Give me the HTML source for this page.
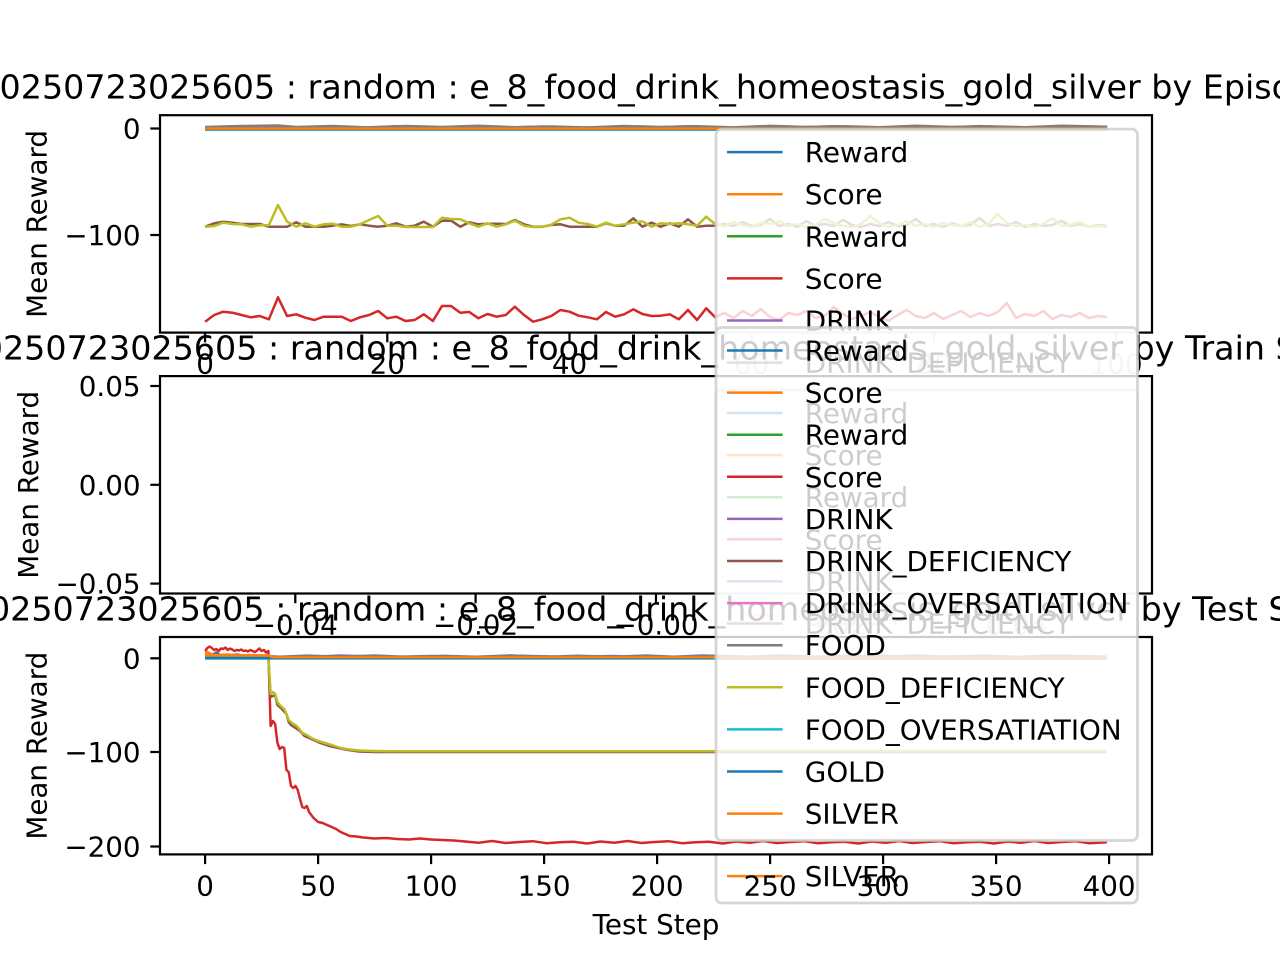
<!DOCTYPE html>
<html><head><meta charset="utf-8"><style>
html,body{margin:0;padding:0;background:#fff;}
svg{display:block;}
text{font-family:"DejaVu Sans","Liberation Sans",sans-serif;fill:#000;}
.tk{font-size:27.78px;}
.ti{font-size:33.33px;}
.ln{fill:none;stroke-width:2.5;stroke-linejoin:round;vector-effect:non-scaling-stroke;}
.sp{fill:none;stroke:#000;stroke-width:2.22;}
.tick{stroke:#000;stroke-width:2.22;}
.lg{fill:#fff;fill-opacity:0.8;stroke:#ccc;stroke-opacity:0.8;stroke-width:2.78;}
.h{stroke-width:2.5;}
</style></head><body>
<svg width="1280" height="960" viewBox="0 0 1280 960" xmlns="http://www.w3.org/2000/svg">
<defs>
<clipPath id="c1"><rect x="160" y="115.2" width="992" height="217.4"/></clipPath>
<clipPath id="c3"><rect x="160" y="637" width="992" height="217.4"/></clipPath>
</defs>
<rect x="0" y="0" width="1280" height="960" fill="#fff"/>

<!-- ================= AX1 ================= -->
<g clip-path="url(#c1)">
<g transform="translate(205.1,0) scale(9.111,1)">
<polyline class="ln" stroke="#1f77b4" points="0,129 99,129"/>
<polyline class="ln" stroke="#ff7f0e" points="0,128.3 99,128.3"/>
<polyline class="ln" stroke="#2ca02c" points="0,129.3 99,129.3"/>
<polyline class="ln" stroke="#d62728" points="0,321.7 1,315 2,311.7 3,312.7 4,315 5,317.3 6,316 7,319.3 8,297.3 9,316 10,314.3 11,317.7 12,320 13,316.7 14,316.7 15,316.7 16,321 17,317.3 18,315 19,311 20,318.3 21,316.7 22,321 23,320 24,314.3 25,321 26,306 27,306 28,312.7 29,312 30,318.3 31,314 32,316.7 33,315 34,306.7 35,315 36,321.7 37,319.3 38,316 39,310 40,311.7 41,315.7 42,317.3 43,319.3 44,312 45,316.7 46,314.3 47,309.3 48,314 49,316 50,315.7 51,314.3 52,319.3 53,310 54,320 55,308.3 56,317.3 57,313 58,318 59,311 60,316 61,309 62,317 63,320 64,313 65,315 66,311 67,318 68,316 69,307 70,314 71,319 72,316 73,312 74,317 75,321 76,315 77,310 78,316 79,318 80,313 81,319 82,315 83,311 84,317 85,313 86,316 87,312 88,303 89,318 90,314 91,316 92,311 93,319 94,315 95,317 96,313 97,318 98,316 99,317"/>
<polyline class="ln" stroke="#9467bd" points="0,127.5 5,126.5 9,127.8 13,126.8 17,127.6 21,126.3 25,127.7 29,126.9 33,127.6 37,126.5 41,127.8 45,126.6 49,127.5 53,126.2 57,127.7 61,126.8 65,127.4 69,126.3 73,127.8 77,126.7 81,127.5 85,126.1 89,127.6 93,126.9 97,127.5 99,126.6"/>
<polyline class="ln" stroke="#8c564b" points="0,226.7 1,223.3 2,221.7 3,222.7 4,224 5,224 6,224 7,226.7 8,226.7 9,226.7 10,222.3 11,226.7 12,226.7 13,226.7 14,225.7 15,224.3 16,226 17,224.3 18,225.7 19,226.7 20,225.7 21,223.3 22,226.7 23,225.7 24,221.7 25,226.7 26,220.7 27,220.7 28,226.7 29,222.3 30,224.3 31,223.7 32,223.7 33,224 34,220 35,224.3 36,226.7 37,226.7 38,225 39,224.3 40,226.7 41,226.7 42,226.7 43,226.7 44,223.3 45,225.7 46,225.7 47,218.3 48,226.7 49,222.7 50,226.7 51,223.3 52,226.7 53,219.3 54,226.7 55,225.7 56,225.7 57,224 58,226 59,222 60,226 61,225 62,219 63,226 64,224 65,227 66,221 67,226 68,224 69,226 70,220 71,225 72,227 73,224 74,226 75,222 76,226 77,225 78,219 79,226 80,224 81,227 82,223 83,226 84,225 85,218 86,226 87,224 88,226 89,222 90,227 91,224 92,226 93,225 94,221 95,226 96,224 97,227 98,225 99,226"/>
<polyline class="ln" stroke="#e377c2" points="0,129.3 99,129.3"/>
<polyline class="ln" stroke="#7f7f7f" points="0,127 4,126 8,125.5 10,127 14,126 18,127.5 22,126 26,127 30,125.8 34,127.3 38,126.5 42,127.5 46,126 50,127 54,126.3 58,127.4 62,125.9 66,127 70,126.2 74,127.3 78,125.7 82,127 86,126.4 90,127.2 94,125.8 99,126.8"/>
<polyline class="ln" stroke="#bcbd22" points="0,226.7 1,226 2,222.7 3,224 4,224.3 5,226.7 6,225.3 7,225.3 8,205 9,221.7 10,226.7 11,223.3 12,226.7 13,224.3 14,223.7 15,226.7 16,226.7 17,224.3 18,220 19,216 20,225.7 21,225.7 22,227 23,227 24,227 25,227 26,217.7 27,219 28,219.3 29,223.3 30,226.7 31,223.3 32,226.7 33,224.3 34,220.7 35,225.7 36,227 37,227 38,224.7 39,219.3 40,217.7 41,222.7 42,224 43,226.7 44,222.7 45,225.7 46,224.3 47,222.7 48,221.3 49,226.7 50,223.3 51,224 52,223.3 53,224.3 54,225.7 55,216.7 56,224.3 57,226 58,222 59,225 60,227 61,223 62,224 63,221 64,226 65,224 66,227 67,225 68,219 69,223 70,226 71,227 72,224 73,216 74,223 75,227 76,225 77,221 78,226 79,224 80,227 81,223 82,225 83,226 84,222 85,227 86,224 87,214 88,223 89,226 90,225 91,227 92,224 93,218 94,226 95,225 96,222 97,227 98,226 99,227"/>
<polyline class="ln" stroke="#17becf" points="0,129.6 99,129.6"/>
<polyline class="ln" stroke="#1f77b4" points="0,129.3 99,129.3"/>
<polyline class="ln" stroke="#ff7f0e" points="0,128.6 99,128.6"/>
</g>
</g>
<rect class="sp" x="160" y="115.2" width="992" height="217.4"/>
<g class="tick">
<line x1="150.3" y1="128.5" x2="160" y2="128.5"/>
<line x1="150.3" y1="235" x2="160" y2="235"/>
<line x1="205.1" y1="332.6" x2="205.1" y2="342.3"/>
<line x1="387.3" y1="332.6" x2="387.3" y2="342.3"/>
<line x1="569.5" y1="332.6" x2="569.5" y2="342.3"/>
<line x1="751.7" y1="332.6" x2="751.7" y2="342.3"/>
<line x1="933.9" y1="332.6" x2="933.9" y2="342.3"/>
<line x1="1116.1" y1="332.6" x2="1116.1" y2="342.3"/>
</g>
<g class="tk">
<text x="140.6" y="138.5" text-anchor="end">0</text>
<text x="140.6" y="245" text-anchor="end">−100</text>
<text x="205.1" y="373.5" text-anchor="middle">0</text>
<text x="387.3" y="373.5" text-anchor="middle">20</text>
<text x="569.5" y="373.5" text-anchor="middle">40</text>
<text x="751.7" y="373.5" text-anchor="middle">60</text>
<text x="933.9" y="373.5" text-anchor="middle">80</text>
<text x="1116.1" y="373.5" text-anchor="middle">100</text>
<text transform="translate(46.6,223.9) rotate(-90)" text-anchor="middle">Mean Reward</text>
</g>
<text class="ti" x="656" y="98.5" text-anchor="middle">20250723025605 : random : e_8_food_drink_homeostasis_gold_silver by Episode</text>
<!-- legend 1 -->
<rect class="lg" x="716" y="129.1" width="421.5" height="513" rx="5.6"/>
<g class="h">
<line x1="727" y1="152.1" x2="782.6" y2="152.1" stroke="#1f77b4"/>
<line x1="727" y1="194.2" x2="782.6" y2="194.2" stroke="#ff7f0e"/>
<line x1="727" y1="236.3" x2="782.6" y2="236.3" stroke="#2ca02c"/>
<line x1="727" y1="278.4" x2="782.6" y2="278.4" stroke="#d62728"/>
<line x1="727" y1="320.5" x2="782.6" y2="320.5" stroke="#9467bd"/>
<line x1="727" y1="362.6" x2="782.6" y2="362.6" stroke="#8c564b"/>
<line x1="727" y1="404.7" x2="782.6" y2="404.7" stroke="#e377c2"/>
<line x1="727" y1="446.8" x2="782.6" y2="446.8" stroke="#7f7f7f"/>
<line x1="727" y1="488.9" x2="782.6" y2="488.9" stroke="#bcbd22"/>
<line x1="727" y1="531" x2="782.6" y2="531" stroke="#17becf"/>
<line x1="727" y1="573.1" x2="782.6" y2="573.1" stroke="#1f77b4"/>
<line x1="727" y1="615.2" x2="782.6" y2="615.2" stroke="#ff7f0e"/>
</g>
<g class="tk">
<text x="804.8" y="162.1">Reward</text>
<text x="804.8" y="204.2">Score</text>
<text x="804.8" y="246.3">Reward</text>
<text x="804.8" y="288.4">Score</text>
<text x="804.8" y="330.5">DRINK</text>
<text x="804.8" y="372.6">DRINK_DEFICIENCY</text>
<text x="804.8" y="414.7">DRINK_OVERSATIATION</text>
<text x="804.8" y="456.8">FOOD</text>
<text x="804.8" y="498.9">FOOD_DEFICIENCY</text>
<text x="804.8" y="541">FOOD_OVERSATIATION</text>
<text x="804.8" y="583.1">GOLD</text>
<text x="804.8" y="625.2">SILVER</text>
</g>

<!-- ================= AX2 ================= -->
<rect x="160" y="376.1" width="992" height="217.4" fill="#fff"/>
<rect class="sp" x="160" y="376.1" width="992" height="217.4"/>
<g class="tick">
<line x1="150.3" y1="386" x2="160" y2="386"/>
<line x1="150.3" y1="484.8" x2="160" y2="484.8"/>
<line x1="150.3" y1="583.6" x2="160" y2="583.6"/>
<line x1="295.3" y1="593.5" x2="295.3" y2="603.2"/>
<line x1="475.6" y1="593.5" x2="475.6" y2="603.2"/>
<line x1="656" y1="593.5" x2="656" y2="603.2"/>
<line x1="836.4" y1="593.5" x2="836.4" y2="603.2"/>
<line x1="1016.7" y1="593.5" x2="1016.7" y2="603.2"/>
</g>
<g class="tk">
<text x="140.6" y="396" text-anchor="end">0.05</text>
<text x="140.6" y="494.8" text-anchor="end">0.00</text>
<text x="140.6" y="593.6" text-anchor="end">−0.05</text>
<text x="295.3" y="634.5" text-anchor="middle">−0.04</text>
<text x="475.6" y="634.5" text-anchor="middle">−0.02</text>
<text x="656" y="634.5" text-anchor="middle">−0.00</text>
<text x="836.4" y="634.5" text-anchor="middle">0.02</text>
<text x="1016.7" y="634.5" text-anchor="middle">0.04</text>
<text transform="translate(37.8,484.8) rotate(-90)" text-anchor="middle">Mean Reward</text>
</g>
<text class="ti" x="656" y="359.4" text-anchor="middle">20250723025605 : random : e_8_food_drink_homeostasis_gold_silver by Train Step</text>
<!-- legend 2 -->
<rect class="lg" x="716" y="390" width="421.5" height="513" rx="5.6"/>
<g class="h">
<line x1="727" y1="413" x2="782.6" y2="413" stroke="#1f77b4"/>
<line x1="727" y1="455.1" x2="782.6" y2="455.1" stroke="#ff7f0e"/>
<line x1="727" y1="497.2" x2="782.6" y2="497.2" stroke="#2ca02c"/>
<line x1="727" y1="539.3" x2="782.6" y2="539.3" stroke="#d62728"/>
<line x1="727" y1="581.4" x2="782.6" y2="581.4" stroke="#9467bd"/>
<line x1="727" y1="623.5" x2="782.6" y2="623.5" stroke="#8c564b"/>
<line x1="727" y1="665.6" x2="782.6" y2="665.6" stroke="#e377c2"/>
<line x1="727" y1="707.7" x2="782.6" y2="707.7" stroke="#7f7f7f"/>
<line x1="727" y1="749.8" x2="782.6" y2="749.8" stroke="#bcbd22"/>
<line x1="727" y1="791.9" x2="782.6" y2="791.9" stroke="#17becf"/>
<line x1="727" y1="834" x2="782.6" y2="834" stroke="#1f77b4"/>
<line x1="727" y1="876.1" x2="782.6" y2="876.1" stroke="#ff7f0e"/>
</g>
<g class="tk">
<text x="804.8" y="423">Reward</text>
<text x="804.8" y="465.1">Score</text>
<text x="804.8" y="507.2">Reward</text>
<text x="804.8" y="549.3">Score</text>
<text x="804.8" y="591.4">DRINK</text>
<text x="804.8" y="633.5">DRINK_DEFICIENCY</text>
<text x="804.8" y="675.6">DRINK_OVERSATIATION</text>
<text x="804.8" y="717.7">FOOD</text>
<text x="804.8" y="759.8">FOOD_DEFICIENCY</text>
<text x="804.8" y="801.9">FOOD_OVERSATIATION</text>
<text x="804.8" y="844">GOLD</text>
<text x="804.8" y="886.1">SILVER</text>
</g>

<!-- ================= AX3 ================= -->
<rect x="160" y="637" width="992" height="217.4" fill="#fff"/>
<g clip-path="url(#c3)">
<g transform="translate(205.09,0) scale(2.2602,1)">
<polyline class="ln" stroke="#1f77b4" points="0,656 3,655 5,652.5 7,655.5 10,656 14,654.5 18,656 22,655.5 26,656.5 28,657 40,657.5 60,657 80,657.5 100,657 140,657.5 200,657 260,657.5 320,657 399,657.5"/>
<polyline class="ln" stroke="#ff7f0e" points="0,653.5 1,652 3,654.5 6,655 10,654.5 15,655.5 20,655 25,655.5 28,656 35,657 60,656.5 100,657 150,656.5 200,657 300,656.5 399,657"/>
<polyline class="ln" stroke="#2ca02c" points="0,657.8 399,657.8"/>
<polyline class="ln" stroke="#d62728" points="0,651 1,648 2,646.5 3,648 4,650 5,649 6,651 7,648.5 8,649 9,647.5 10,650 11,648.5 12,649.5 13,651 14,650 15,650.5 16,649.5 17,651 18,650.5 19,651.5 20,650 21,651 22,652 23,650.5 24,648.5 25,651 26,650 27,652.5 28,651 29,726 30,721 31,724 32,743 33,749 34,747 35,748 36,770 37,772 38,786 39,788 40,786 41,790 42,799 43,807 44,808 45,806 46,812 47,815 48,818 49,820 50,822 52,823 54,825 56,827 58,829 60,832 62,834 64,836 67,836.5 70,837.5 75,838.5 80,838 85,839 90,839.5 95,838.5 100,839.5 105,840 110,840.5 115,841.5 121,842.8 127,841 133,843 139,842 145,841.2 151,843.2 157,842.3 163,841.8 169,843.5 175,841.5 181,842.8 187,841 193,843 199,842 205,841.2 211,843.2 217,842.3 223,841.8 229,843.5 235,841.5 241,842.8 247,841 253,843 259,842 265,841.2 271,843.2 277,842.3 283,841.8 289,843.5 295,841.5 301,842.8 307,841 313,843 319,842 325,841.2 331,843.2 337,842.3 343,841.8 349,843.5 355,841.5 361,842.8 367,841 373,843 379,842 385,841.2 391,843.2 399,842.3"/>
<polyline class="ln" stroke="#9467bd" points="0,657 20,656 40,657.5 60,655.5 80,657 100,656 120,657.5 140,655.8 160,657 180,656 200,657.5 220,655.5 240,657 260,656 280,657.5 300,655.8 320,657 340,656 360,657.5 380,656 399,657"/>
<polyline class="ln" stroke="#8c564b" points="0,658 28,658 29,697 31,695 32,705 34,709 36,714 37,722 38,725 40,728 42,731 44,736 47,739 51,743 55,746 62,749.5 68,751.5 75,752 399,752"/>
<polyline class="ln" stroke="#e377c2" points="0,658 399,658"/>
<polyline class="ln" stroke="#7f7f7f" points="0,656.5 15,655.8 30,657 45,655.6 60,656.8 75,655.5 90,657 105,655.9 120,656.8 135,655.4 150,657 165,655.8 180,656.9 195,655.5 210,657 225,655.7 240,656.8 255,655.5 270,657 285,655.9 300,656.7 315,655.5 330,657 345,655.8 360,656.9 375,655.6 399,656.8"/>
<polyline class="ln" stroke="#bcbd22" points="0,657.5 28,657.5 29,694 30,692 31,694 32,702 33,705 34,707 35,709 36,714 37,720 38,722 39,724 40,725 41,727 42,730 43,733 45,735 47,738 50,741 53,743 56,745 60,748 64,749.5 68,750.5 75,751 85,751.3 399,751.3"/>
<polyline class="ln" stroke="#17becf" points="0,658.5 399,658.5"/>
<polyline class="ln" stroke="#1f77b4" points="0,658 399,658"/>
<polyline class="ln" stroke="#ff7f0e" points="0,655 28,655.5 30,657.3 399,657.3"/>
</g>
</g>
<rect class="sp" x="160" y="637" width="992" height="217.4"/>
<g class="tick">
<line x1="150.3" y1="658.3" x2="160" y2="658.3"/>
<line x1="150.3" y1="752" x2="160" y2="752"/>
<line x1="150.3" y1="846.5" x2="160" y2="846.5"/>
<line x1="205.1" y1="854.4" x2="205.1" y2="864.1"/>
<line x1="318.1" y1="854.4" x2="318.1" y2="864.1"/>
<line x1="431.1" y1="854.4" x2="431.1" y2="864.1"/>
<line x1="544.1" y1="854.4" x2="544.1" y2="864.1"/>
<line x1="657.1" y1="854.4" x2="657.1" y2="864.1"/>
<line x1="770.1" y1="854.4" x2="770.1" y2="864.1"/>
<line x1="883.1" y1="854.4" x2="883.1" y2="864.1"/>
<line x1="996.1" y1="854.4" x2="996.1" y2="864.1"/>
<line x1="1109.1" y1="854.4" x2="1109.1" y2="864.1"/>
</g>
<g class="tk">
<text x="140.6" y="668.3" text-anchor="end">0</text>
<text x="140.6" y="762" text-anchor="end">−100</text>
<text x="140.6" y="856.5" text-anchor="end">−200</text>
<text x="205.1" y="895.5" text-anchor="middle">0</text>
<text x="318.1" y="895.5" text-anchor="middle">50</text>
<text x="431.1" y="895.5" text-anchor="middle">100</text>
<text x="544.1" y="895.5" text-anchor="middle">150</text>
<text x="657.1" y="895.5" text-anchor="middle">200</text>
<text x="770.1" y="895.5" text-anchor="middle">250</text>
<text x="883.1" y="895.5" text-anchor="middle">300</text>
<text x="996.1" y="895.5" text-anchor="middle">350</text>
<text x="1109.1" y="895.5" text-anchor="middle">400</text>
<text x="656" y="934" text-anchor="middle">Test Step</text>
<text transform="translate(46.6,745.7) rotate(-90)" text-anchor="middle">Mean Reward</text>
</g>
<text class="ti" x="656" y="620.3" text-anchor="middle">20250723025605 : random : e_8_food_drink_homeostasis_gold_silver by Test Step</text>
<!-- legend 3 -->
<rect class="lg" x="716" y="327.5" width="421.5" height="513" rx="5.6"/>
<g class="h">
<line x1="727" y1="350.5" x2="782.6" y2="350.5" stroke="#1f77b4"/>
<line x1="727" y1="392.6" x2="782.6" y2="392.6" stroke="#ff7f0e"/>
<line x1="727" y1="434.7" x2="782.6" y2="434.7" stroke="#2ca02c"/>
<line x1="727" y1="476.8" x2="782.6" y2="476.8" stroke="#d62728"/>
<line x1="727" y1="518.9" x2="782.6" y2="518.9" stroke="#9467bd"/>
<line x1="727" y1="561" x2="782.6" y2="561" stroke="#8c564b"/>
<line x1="727" y1="603.1" x2="782.6" y2="603.1" stroke="#e377c2"/>
<line x1="727" y1="645.2" x2="782.6" y2="645.2" stroke="#7f7f7f"/>
<line x1="727" y1="687.3" x2="782.6" y2="687.3" stroke="#bcbd22"/>
<line x1="727" y1="729.4" x2="782.6" y2="729.4" stroke="#17becf"/>
<line x1="727" y1="771.5" x2="782.6" y2="771.5" stroke="#1f77b4"/>
<line x1="727" y1="813.6" x2="782.6" y2="813.6" stroke="#ff7f0e"/>
</g>
<g class="tk">
<text x="804.8" y="360.5">Reward</text>
<text x="804.8" y="402.6">Score</text>
<text x="804.8" y="444.7">Reward</text>
<text x="804.8" y="486.8">Score</text>
<text x="804.8" y="528.9">DRINK</text>
<text x="804.8" y="571">DRINK_DEFICIENCY</text>
<text x="804.8" y="613.1">DRINK_OVERSATIATION</text>
<text x="804.8" y="655.2">FOOD</text>
<text x="804.8" y="697.3">FOOD_DEFICIENCY</text>
<text x="804.8" y="739.4">FOOD_OVERSATIATION</text>
<text x="804.8" y="781.5">GOLD</text>
<text x="804.8" y="823.6">SILVER</text>
</g>
</svg>
</body></html>
